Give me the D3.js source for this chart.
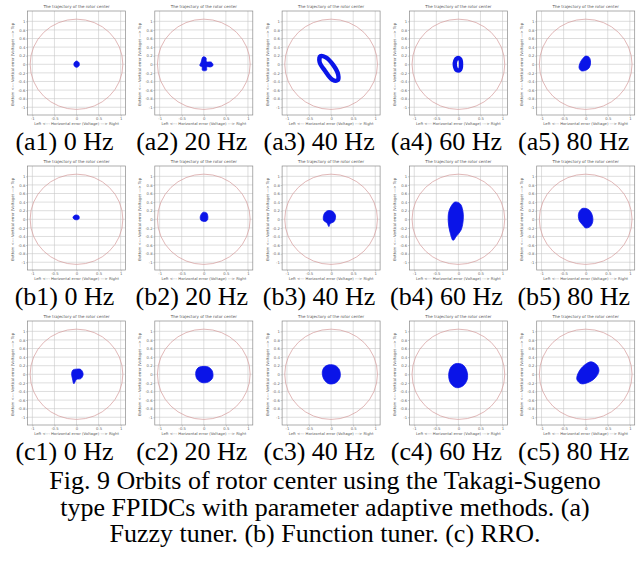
<!DOCTYPE html>
<html>
<head>
<meta charset="utf-8">
<script src="https://cdn.jsdelivr.net/npm/d3@7/dist/d3.min.js"></script>
<style>
  html, body { margin: 0; padding: 0; background: #fff; }
  svg { display: block; }
  .serif { font-family: "Liberation Serif", "Times New Roman", Times, serif; }
</style>
</head>
<body>
<svg id="chart" width="640" height="567"></svg>
<script>
// ---------- DATA ----------
const rowLetters = ["a", "b", "c"];
const frequencies = [0, 20, 40, 60, 80];
const xTicks = [-1, -0.5, 0, 0.5, 1];
const yTicks = [1, 0.8, 0.6, 0.4, 0.2, 0, -0.2, -0.4, -0.6, -0.8, -1];
const boundaryRadius = 1.05;
const panelTitle = "The trajectory of the rotor center";
const xAxisLabel = "Left <--- Horizontal error (Voltage) ---> Right";
const yAxisLabel = "Bottom <--- Vertical error (Voltage) ---> Top";
const captionLines = [
  "Fig. 9 Orbits of rotor center using the Takagi-Sugeno",
  "type FPIDCs with parameter adaptive methods. (a)",
  "Fuzzy tuner. (b) Function tuner. (c) RRO."
];

// orbit outlines (data units)
const orbitsA = [
  [[0,0.075],[0.055,0.04],[0.06,-0.03],[0.01,-0.07],[-0.05,-0.04],[-0.055,0.03]],
  [[-0.02,0.17],[0.05,0.15],[0.06,0.06],[0.17,0.05],[0.21,-0.02],[0.16,-0.06],[0.07,-0.06],[0.06,-0.14],[-0.03,-0.14],[-0.04,-0.06],[-0.09,-0.03],[-0.06,0.05]],
  [[0.15,-0.37],[0.16,-0.24],[0.05,-0.02],[-0.12,0.16],[-0.24,0.19],[-0.26,0.05],[-0.14,-0.15],[0.03,-0.36]],
  [[-0.03,0.14],[0.04,0.12],[0.06,0.0],[0.04,-0.12],[-0.03,-0.14],[-0.08,-0.03],[-0.07,0.08]],
  [[0.0,0.19],[0.08,0.16],[0.11,0.05],[0.08,-0.08],[0.0,-0.14],[-0.1,-0.15],[-0.15,-0.08],[-0.12,0.05],[-0.06,0.14]]
];
const orbitsB = [
  [[-0.02,0.1],[0.05,0.08],[0.06,0.02],[0.02,-0.01],[-0.05,0.0],[-0.08,0.05]],
  [[-0.02,0.16],[0.06,0.15],[0.09,0.08],[0.08,-0.02],[0.02,-0.05],[-0.06,-0.03],[-0.08,0.06]],
  [[-0.08,0.2],[0.04,0.18],[0.1,0.08],[0.07,-0.05],[-0.02,-0.1],[-0.05,-0.17],[-0.09,-0.09],[-0.17,-0.02],[-0.16,0.12]],
  [[-0.08,0.4],[0.04,0.36],[0.1,0.2],[0.11,0.0],[0.06,-0.25],[-0.05,-0.4],[-0.12,-0.49],[-0.19,-0.3],[-0.23,-0.05],[-0.21,0.2]],
  [[-0.08,0.25],[0.06,0.23],[0.14,0.12],[0.16,-0.05],[0.1,-0.17],[0.0,-0.2],[-0.08,-0.12],[-0.15,-0.02],[-0.16,0.14]]
];
const orbitsC = [
  [[0.0,0.12],[0.1,0.11],[0.15,0.0],[0.1,-0.1],[0.0,-0.12],[-0.06,-0.22],[-0.09,-0.11],[-0.11,0.02],[-0.08,0.1]],
  [[-0.05,0.18],[0.1,0.17],[0.19,0.08],[0.2,-0.08],[0.1,-0.18],[-0.05,-0.19],[-0.16,-0.1],[-0.18,0.06],[-0.13,0.15]],
  [[-0.05,0.22],[0.1,0.2],[0.19,0.1],[0.2,-0.08],[0.1,-0.2],[-0.05,-0.22],[-0.16,-0.12],[-0.2,0.05],[-0.15,0.17]],
  [[-0.05,0.25],[0.1,0.22],[0.19,0.08],[0.2,-0.12],[0.1,-0.27],[-0.05,-0.31],[-0.18,-0.2],[-0.22,0.0],[-0.16,0.18]],
  [[0.12,0.29],[0.25,0.22],[0.3,0.08],[0.22,-0.08],[0.08,-0.18],[-0.1,-0.22],[-0.2,-0.12],[-0.16,0.05],[-0.02,0.22]]
];
const orbitRows = [orbitsA, orbitsB, orbitsC];
// which orbits are rings (drawn as thick outline) instead of filled blobs
const ringFlags = [
  [false, false, true, true, false],
  [false, false, false, false, false],
  [false, false, false, false, false]
];

// ---------- LAYOUT ----------
const colPitch = 127.3, rowPitch = 155;
const boxLeft0 = 27.5, boxW = 98, boxTop0 = 11, boxH = 104;
const blue = "#0a14e8";
const tickFmt = d => String(d);

const svg = d3.select("#chart");

rowLetters.forEach((letter, r) => {
  frequencies.forEach((f, c) => {
    const left = boxLeft0 + colPitch * c;
    const top = boxTop0 + rowPitch * r;
    const x = d3.scaleLinear().domain([-1.11, 1.11]).range([left, left + boxW]);
    const y = d3.scaleLinear().domain([-1.18, 1.24]).range([top + boxH, top]);
    const g = svg.append("g");

    // grid
    g.selectAll(".vg").data(xTicks).enter().append("line")
      .attr("x1", d => x(d)).attr("x2", d => x(d))
      .attr("y1", top).attr("y2", top + boxH)
      .attr("stroke", "#c8c8c8").attr("stroke-width", 0.6);
    g.selectAll(".hg").data(yTicks).enter().append("line")
      .attr("y1", d => y(d)).attr("y2", d => y(d))
      .attr("x1", left).attr("x2", left + boxW)
      .attr("stroke", "#c8c8c8").attr("stroke-width", 0.6);

    // axes (tiny ticks & labels)
    const xAxis = d3.axisBottom(x).tickValues(xTicks).tickSize(1.5).tickFormat(tickFmt);
    const yAxis = d3.axisLeft(y).tickValues(yTicks).tickSize(1.5).tickFormat(tickFmt);
    const gx = g.append("g").attr("transform", `translate(0,${top + boxH})`).call(xAxis);
    const gy = g.append("g").attr("transform", `translate(${left},0)`).call(yAxis);
    [gx, gy].forEach(a => {
      a.select(".domain").remove();
      a.selectAll("line").attr("stroke", "#999").attr("stroke-width", 0.5);
      a.selectAll("text").attr("font-size", 3.8).attr("font-family", "DejaVu Sans").attr("fill", "#666");
    });
    gx.selectAll("text").attr("dy", "0.9em").attr("y", 1.5);
    gy.selectAll("text").attr("x", -2.2);

    // box
    g.append("rect").attr("x", left).attr("y", top).attr("width", boxW).attr("height", boxH)
      .attr("fill", "none").attr("stroke", "#8a8a8a").attr("stroke-width", 0.7);

    // boundary circle
    g.append("ellipse")
      .attr("cx", x(0)).attr("cy", y(0))
      .attr("rx", x(boundaryRadius) - x(0)).attr("ry", y(0) - y(boundaryRadius))
      .attr("fill", "none").attr("stroke", "#d49a9a").attr("stroke-width", 0.7);

    // orbit
    const pts = orbitRows[r][c];
    const line = d3.line().x(d => x(d[0])).y(d => y(d[1])).curve(d3.curveCatmullRomClosed.alpha(0.5));
    if (ringFlags[r][c]) {
      g.append("path").attr("d", line(pts)).attr("fill", "none")
        .attr("stroke", blue).attr("stroke-width", 4.4);
    } else {
      g.append("path").attr("d", line(pts)).attr("fill", blue)
        .attr("stroke", blue).attr("stroke-width", 0.8);
    }

    // panel texts
    g.append("text").attr("x", left + boxW / 2).attr("y", top - 3.5)
      .attr("text-anchor", "middle").attr("font-size", 4).attr("font-family", "DejaVu Sans")
      .attr("fill", "#555").text(panelTitle);
    g.append("text").attr("x", left + boxW / 2).attr("y", top + boxH + 9.5)
      .attr("text-anchor", "middle").attr("font-size", 3.8).attr("font-family", "DejaVu Sans")
      .attr("fill", "#555").text(xAxisLabel);
    g.append("text")
      .attr("transform", `translate(${left - 13.5},${y(0)}) rotate(-90)`)
      .attr("text-anchor", "middle").attr("font-size", 3.8).attr("font-family", "DejaVu Sans")
      .attr("fill", "#555").text(yAxisLabel);

    // sub-figure label
    svg.append("text").attr("class", "serif")
      .attr("x", 64.5 + colPitch * c).attr("y", 150 + rowPitch * r)
      .attr("text-anchor", "middle")
      .attr("font-size", 26).attr("fill", "#000")
      .text(`(${letter}${c + 1}) ${f} Hz`);
  });
});

// caption
captionLines.forEach((t, i) => {
  svg.append("text").attr("class", "serif")
    .attr("x", 325).attr("y", 489 + 26.5 * i)
    .attr("text-anchor", "middle")
    .attr("font-size", 26).attr("fill", "#000")
    .text(t);
});
</script>
</body>
</html>
